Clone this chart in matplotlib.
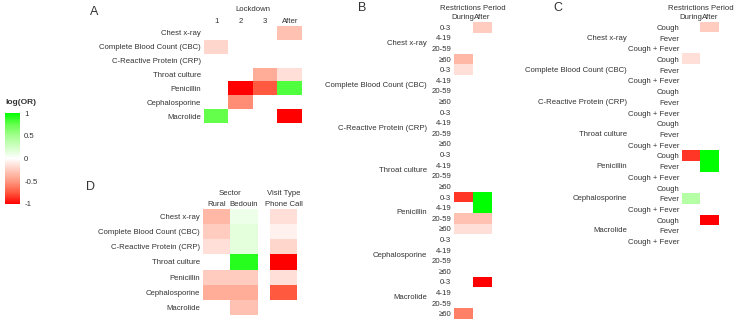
import numpy as np
import matplotlib
matplotlib.use("Agg")
import matplotlib.pyplot as plt
from matplotlib.colors import LinearSegmentedColormap

plt.rcParams["font.family"] = ["Liberation Sans", "DejaVu Sans"]
plt.rcParams["text.color"] = "#333333"
plt.rcParams["xtick.color"] = "#333333"
plt.rcParams["ytick.color"] = "#333333"

nan = np.nan
tests = ["Chest x-ray", "Complete Blood Count (CBC)", "C-Reactive Protein (CRP)",
         "Throat culture", "Penicillin", "Cephalosporine", "Macrolide"]

# A: lockdown periods
lock_cols = ["1", "2", "3", "After"]
lock_vals = [
    [nan, nan, nan, -0.3],
    [-0.2, nan, nan, nan],
    [nan, nan, nan, nan],
    [nan, nan, -0.4, -0.15],
    [nan, -1.0, -0.75, 0.8],
    [nan, -0.55, nan, nan],
    [0.75, nan, nan, -1.0],
]

# B: age groups x restrictions period
period_cols = ["During", "After"]
ages = ["0-3", "4-19", "20-59", "≥60"]
age_vals = [
    [nan, -0.25], [nan, nan], [nan, nan], [-0.35, nan],
    [-0.15, nan], [nan, nan], [nan, nan], [nan, nan],
    [nan, nan], [nan, nan], [nan, nan], [nan, nan],
    [nan, nan], [nan, nan], [nan, nan], [nan, nan],
    [-0.85, 1.0], [nan, 1.0], [-0.3, -0.3], [-0.15, -0.15],
    [nan, nan], [nan, nan], [nan, nan], [nan, nan],
    [nan, -1.0], [nan, nan], [nan, nan], [-0.6, nan],
]

# C: symptoms x restrictions period
symptoms = ["Cough", "Fever", "Cough + Fever"]
symp_vals = [
    [nan, -0.25], [nan, nan], [nan, nan],
    [-0.15, nan], [nan, nan], [nan, nan],
    [nan, nan], [nan, nan], [nan, nan],
    [nan, nan], [nan, nan], [nan, nan],
    [-0.85, 1.0], [nan, 1.0], [nan, nan],
    [nan, nan], [0.4, nan], [nan, nan],
    [nan, -1.0], [nan, nan], [nan, nan],
]

# D: sector and visit type
sector_cols = ["Rural", "Bedouin"]
sector_vals = [
    [-0.35, 0.1],
    [-0.25, 0.15],
    [-0.15, 0.15],
    [nan, 0.9],
    [-0.25, -0.25],
    [-0.4, -0.4],
    [nan, -0.3],
]
visit_cols = ["Phone Call"]
visit_vals = [[-0.15], [-0.07], [-0.2], [-1.0], [-0.15], [-0.75], [nan]]

# red - white - green, with salmon / light green in between (like a Lab blend)
cmap = LinearSegmentedColormap.from_list("rwg", [
    (0.0, "#FF0000"), (0.125, "#FF5A40"), (0.25, "#FF9A82"), (0.375, "#FFCCBF"),
    (0.5, "#FFFFFF"),
    (0.625, "#D2FFC6"), (0.75, "#A4FF90"), (0.875, "#66FF4E"), (1.0, "#00FF00")])
cmap.set_bad("white", 0)

W, H = 736, 323
fig = plt.figure(figsize=(W / 100, H / 100), dpi=100)
FS = 5.6


def box(x0, y0, x1, y1):
    return fig.add_axes([x0 / W, 1 - y1 / H, (x1 - x0) / W, (y1 - y0) / H])


def heat(ax, vals, cols, rows=None, show_cols=True):
    arr = np.array(vals, dtype=float)
    ax.imshow(arr, cmap=cmap, vmin=-1, vmax=1, aspect="auto", interpolation="nearest")
    for s in ax.spines.values():
        s.set_visible(False)
    ax.tick_params(length=0, labelsize=FS, pad=2)
    ax.tick_params(axis="x", pad=0.8)
    ax.xaxis.tick_top()
    if show_cols:
        ax.set_xticks(range(len(cols)))
        ax.set_xticklabels(cols)
    else:
        ax.set_xticks([])
    if rows is not None:
        ax.set_yticks(range(len(rows)))
        ax.set_yticklabels(rows)
    else:
        ax.set_yticks([])


def header(ax, txt, dy=12):
    ax.annotate(txt, xy=(0.5, 1), xycoords="axes fraction", xytext=(0, dy),
                textcoords="offset pixels", ha="center", va="bottom", fontsize=FS)


# panel A
axA = box(204, 26, 302, 123)
heat(axA, lock_vals, lock_cols, tests)
header(axA, "Lockdown", dy=13)
fig.text(90 / W, 1 - 12 / H, "A", fontsize=9, ha="left", va="center")

# panel D
axD1 = box(203, 209, 257, 315)
heat(axD1, sector_vals, sector_cols, tests)
header(axD1, "Sector", dy=12)
axD2 = box(270, 209, 297, 315)
heat(axD2, visit_vals, visit_cols)
header(axD2, "Visit Type", dy=12)
fig.text(86 / W, 1 - 187 / H, "D", fontsize=9, ha="left", va="center")

# panel B
axB = box(454, 22, 491, 319)
heat(axB, age_vals, period_cols, ages * len(tests))
axB.tick_params(axis="x", pad=0.5)
header(axB, "Restrictions Period", dy=10)
for i, t in enumerate(tests):
    axB.annotate(t, xy=(0, i * 4 + 1.5), xycoords=("axes fraction", "data"),
                 xytext=(-27, 0), textcoords="offset pixels",
                 ha="right", va="center", fontsize=FS)
fig.text(358 / W, 1 - 8 / H, "B", fontsize=9, ha="left", va="center")

# panel C
axC = box(682, 22, 719, 247)
heat(axC, symp_vals, period_cols, symptoms * len(tests))
axC.tick_params(axis="x", pad=0.5)
header(axC, "Restrictions Period", dy=10)
for i, t in enumerate(tests):
    axC.annotate(t, xy=(0, i * 3 + 1), xycoords=("axes fraction", "data"),
                 xytext=(-55, 0), textcoords="offset pixels",
                 ha="right", va="center", fontsize=FS)
fig.text(553 / W, 1 - 8 / H, "C", fontsize=9, ha="left", va="center")

# colour legend
cax = box(5, 113, 20, 204)
sm = plt.cm.ScalarMappable(cmap=cmap, norm=plt.Normalize(-1, 1))
cb = fig.colorbar(sm, cax=cax, ticks=[-1, -0.5, 0, 0.5, 1])
cb.outline.set_visible(False)
cb.ax.set_yticklabels(["-1", "-0.5", "0", "0.5", "1"])
cb.ax.tick_params(labelsize=FS, length=2, color="white", pad=1)
fig.text(5 / W, 1 - 103 / H, "log(OR)", fontsize=6, fontweight="bold",
         ha="left", va="center")

fig.savefig("out.png", dpi=100, facecolor="white")
